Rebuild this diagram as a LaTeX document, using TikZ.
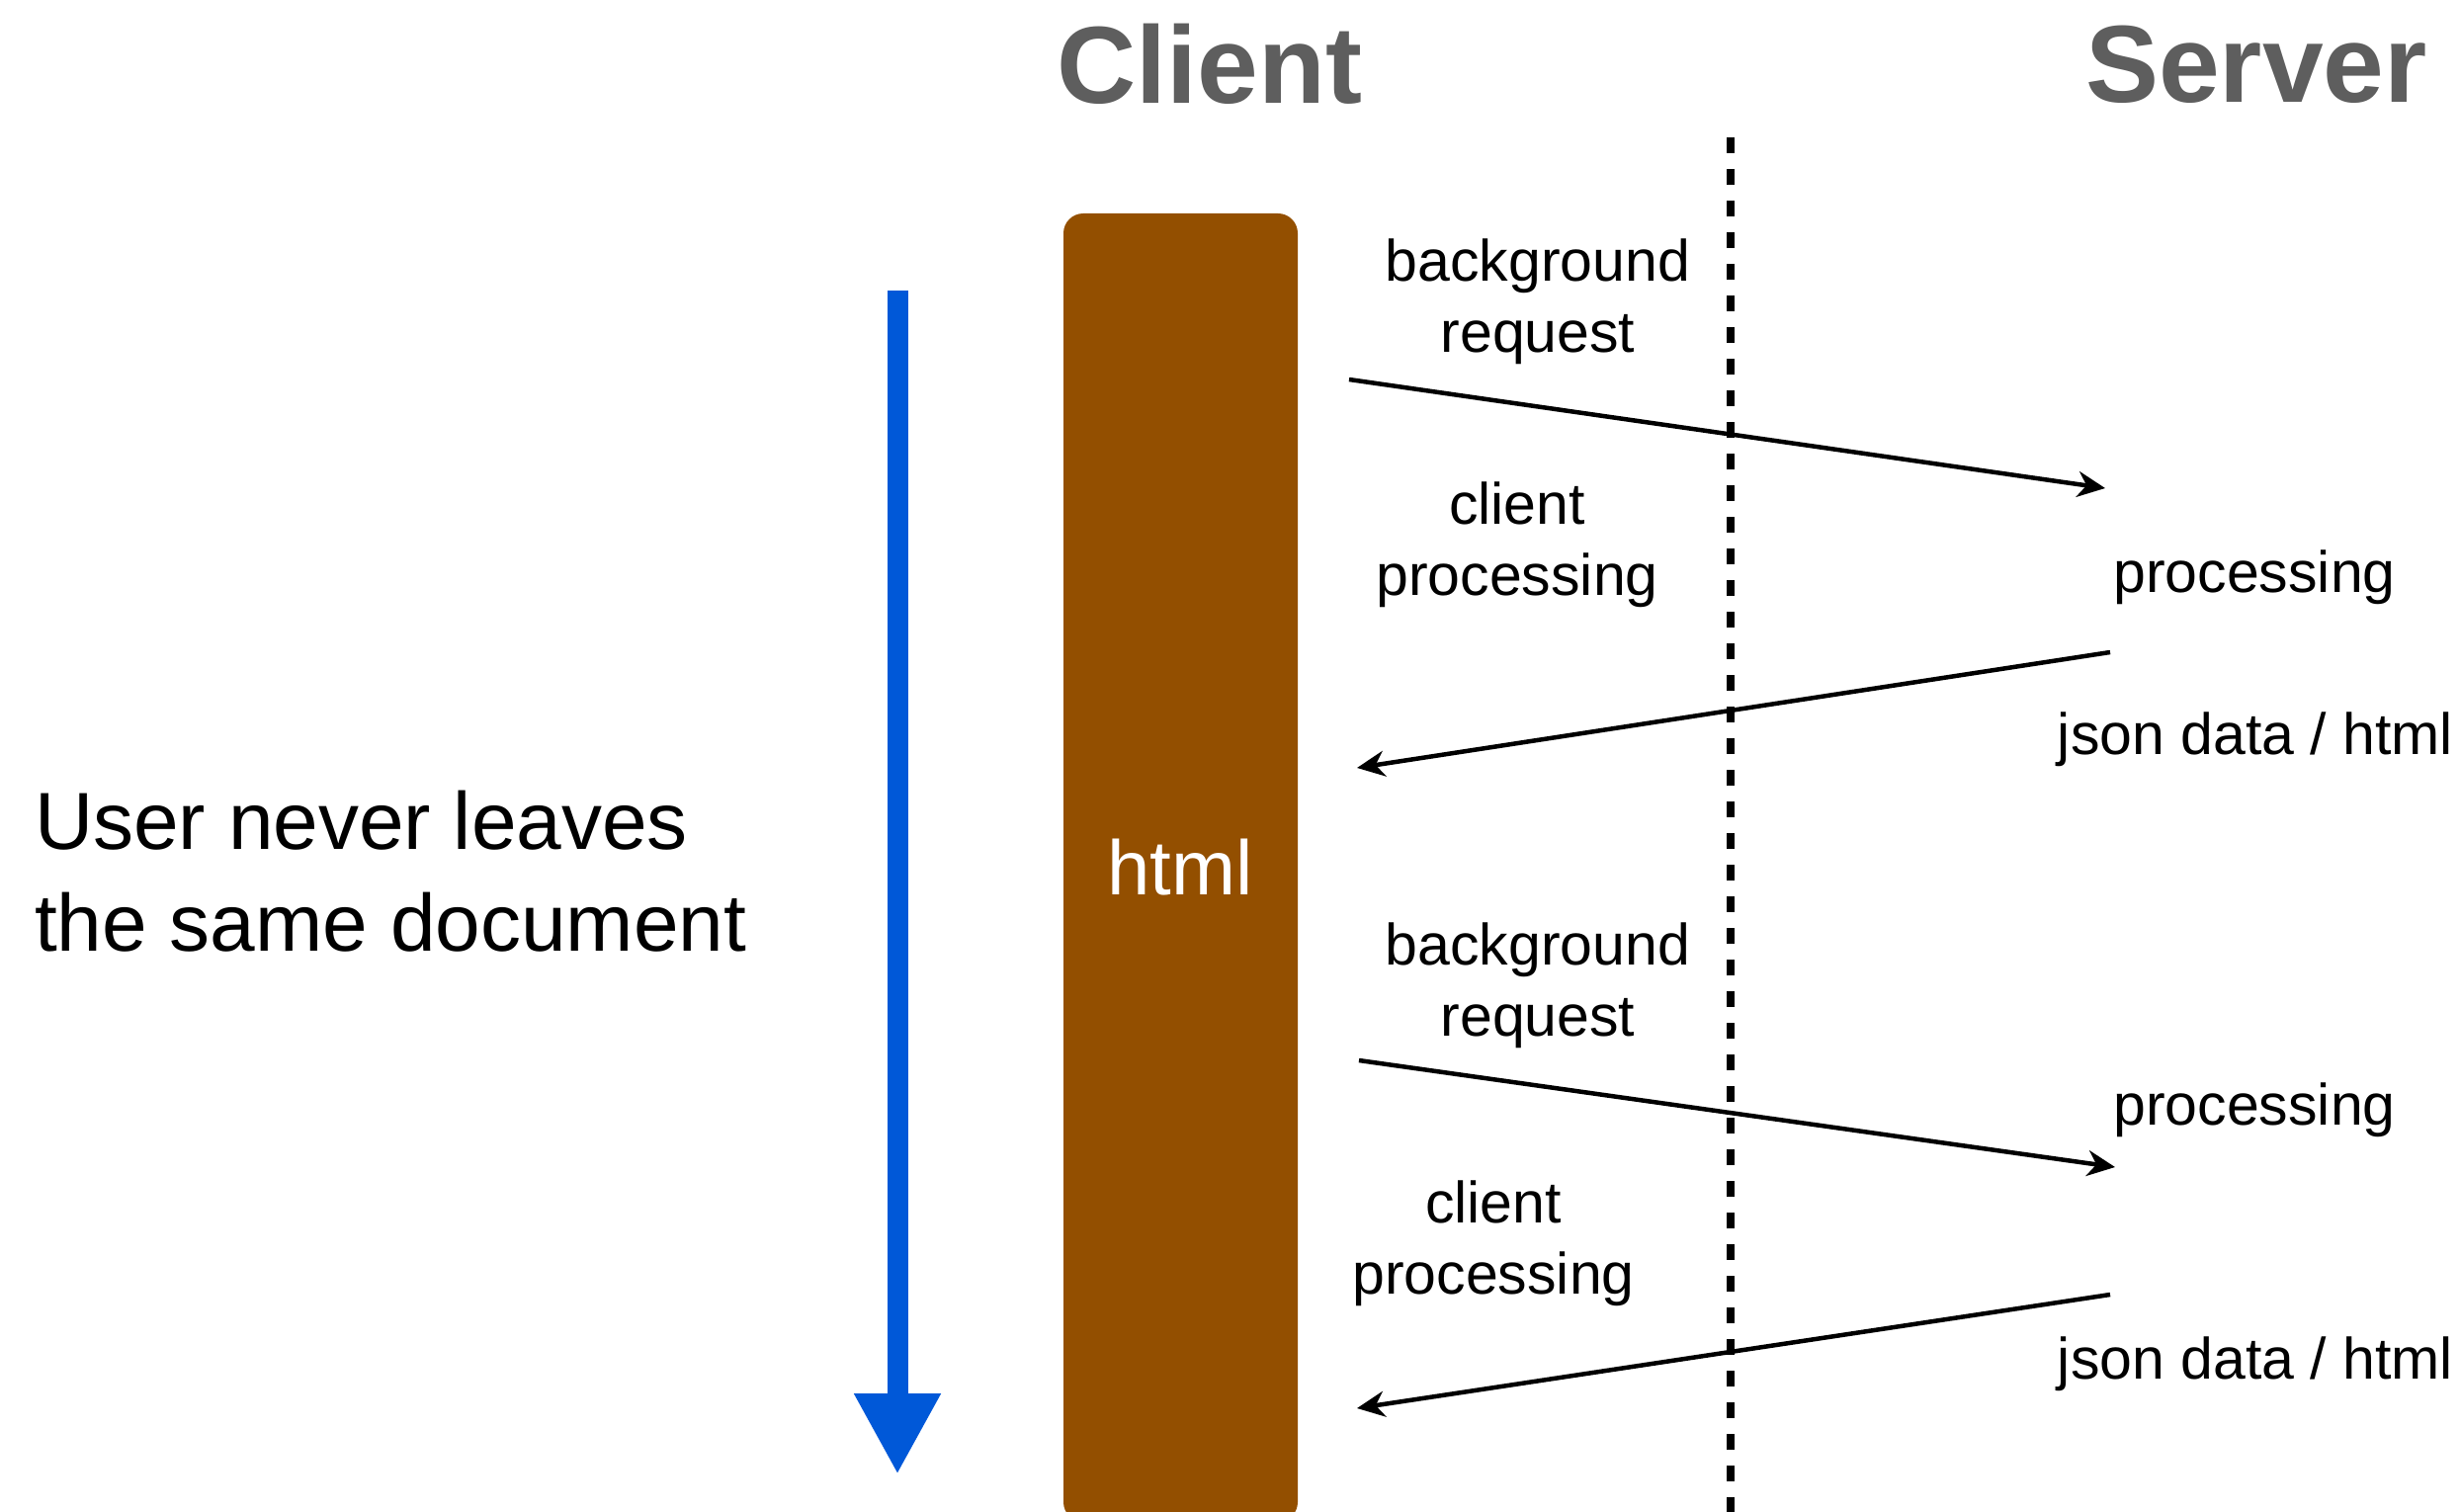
\documentclass[tikz,border=0pt]{standalone}
\usepackage{fontspec}
\setmainfont{Liberation Sans}
\usetikzlibrary{arrows.meta}
\definecolor{titlegray}{HTML}{5E5E5E}
\definecolor{docbrown}{HTML}{934F00}
\definecolor{timeblue}{HTML}{0058D8}
\tikzset{
  title/.style={font=\fontsize{111}{120}\selectfont\bfseries, text=titlegray, inner sep=0pt},
  label/.style={font=\fontsize{59}{72}\selectfont, align=center, inner sep=0pt},
  msg/.style={line width=4.5pt, -{Stealth[length=28pt, width=26pt, inset=9pt]}},
  boundary/.style={line width=8pt, dash pattern=on 16pt off 16pt},
}
\begin{document}
\begin{tikzpicture}[x=1pt, y=-1pt]
\useasboundingbox (0,0) rectangle (2489,1530);

% column titles
\node[title] (client) at (1224,65) {Client};
\node[title] (server) at (2283,65) {Server};

% client/server boundary
\coordinate (bndtop) at (1751,139);
\coordinate (bndbot) at (1751,1530);
\draw[boundary] (bndtop) -- (bndbot);

% the single html document
\fill[docbrown, rounded corners=20pt] (1076,216) rectangle (1313,1540);
\node[font=\fontsize{78}{90}\selectfont, text=white, inner sep=0pt] (html) at (1194,878) {html};

% time line
\coordinate (tstart) at (908,294);
\coordinate (tend) at (908,1492);
\draw[timeblue, line width=21pt, -{Triangle[length=82pt, width=82pt]}] (tstart) -- (tend);
\node[font=\fontsize{82}{103}\selectfont, align=left, anchor=west, inner sep=0pt] (user) at (35,882)
  {User never leaves\\the same document};

% first round trip
\node[label] (req1) at (1556,305) {background\\request};
\coordinate (r1s) at (1365,384);
\coordinate (r1e) at (2130,494);
\draw[msg] (r1s) -- (r1e);
\node[label] (cp1) at (1535,551) {client\\processing};
\node[label] (sp1) at (2281,584) {processing};
\coordinate (a1s) at (2135,660);
\coordinate (a1e) at (1373,777);
\draw[msg] (a1s) -- (a1e);
\node[label] (json1) at (2282,748) {json data / html};

% second round trip
\node[label] (req2) at (1556,997) {background\\request};
\coordinate (r2s) at (1375,1073);
\coordinate (r2e) at (2140,1181);
\draw[msg] (r2s) -- (r2e);
\node[label] (sp2) at (2281,1123) {processing};
\node[label] (cp2) at (1511,1258) {client\\processing};
\coordinate (a2s) at (2135,1310);
\coordinate (a2e) at (1373,1425);
\draw[msg] (a2s) -- (a2e);
\node[label] (json2) at (2282,1380) {json data / html};
\end{tikzpicture}
\end{document}
